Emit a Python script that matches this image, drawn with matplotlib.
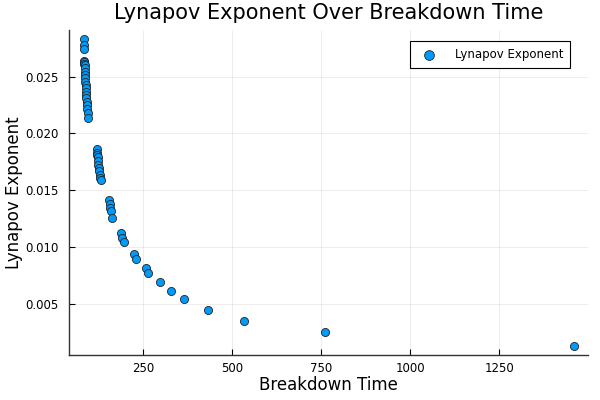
import matplotlib
matplotlib.use("Agg")
import matplotlib.pyplot as plt
import numpy as np

breakdown_time = [
    84, 84, 84, 85, 85, 85, 86, 86, 87, 87, 88, 88, 89, 89, 90, 90, 91, 92, 92, 93, 94, 95,
    120, 121, 121, 122, 123, 124, 125, 127, 128, 130, 131,
    155, 156.5, 158, 160, 163,
    188.5, 192, 196,
    225, 230.5,
    259, 265,
    296, 328.5, 364, 431, 533, 761, 1458,
]
lyapunov = [
    0.02830, 0.02778, 0.02742, 0.02636, 0.02625, 0.02615, 0.02603, 0.02573, 0.02545, 0.02515,
    0.02485, 0.02455, 0.02425, 0.02396, 0.02367, 0.02340, 0.02310, 0.02280, 0.02250, 0.02212,
    0.02178, 0.02132,
    0.01864, 0.01830, 0.01814, 0.01790, 0.01755, 0.01726, 0.01697, 0.01667, 0.01638, 0.01608, 0.01594,
    0.01410, 0.01375, 0.01345, 0.01313, 0.01257,
    0.01120, 0.01080, 0.01040,
    0.00941, 0.00891,
    0.00815, 0.00768,
    0.00691, 0.00612, 0.00538, 0.00449, 0.00348, 0.00248, 0.00130,
]
x_ticks = [250, 500, 750, 1000, 1250]
y_ticks = [0.005, 0.010, 0.015, 0.020, 0.025]

plt.rcParams['font.family'] = ['DejaVu Sans']

fig = plt.figure(figsize=(6, 4), dpi=100)
ax = fig.add_axes([0.1155, 0.1125, 0.865, 0.8125])

ax.scatter(breakdown_time, lyapunov, s=34, color='#009AFA', edgecolors='#222222',
           linewidths=0.6, label='Lynapov Exponent', zorder=3)

x = np.array(breakdown_time); y = np.array(lyapunov)
xm = (x.max() - x.min()) * 0.03
ym = (y.max() - y.min()) * 0.03
ax.set_xlim(x.min() - xm, x.max() + xm)
ax.set_ylim(y.min() - ym, y.max() + ym)

ax.set_xticks(x_ticks)
ax.set_xticklabels([str(t) for t in x_ticks])
ax.set_yticks(y_ticks)
ax.set_yticklabels([f"{t:.3f}" for t in y_ticks])

ax.grid(True, color='black', alpha=0.1, linewidth=0.5)
ax.set_axisbelow(True)
for s in ['top', 'right']:
    ax.spines[s].set_visible(False)
for s in ['left', 'bottom']:
    ax.spines[s].set_color('#333333')
    ax.spines[s].set_linewidth(1.0)
ax.tick_params(direction='in', length=4, width=0.8, labelsize=8.5, colors='black')
ax.tick_params(axis='y', pad=8)
ax.tick_params(axis='x', pad=5)

ax.set_title('Lynapov Exponent Over Breakdown Time', fontsize=15, pad=8)
ax.set_xlabel('Breakdown Time', fontsize=12, labelpad=1)
ax.set_ylabel('Lynapov Exponent', fontsize=12, labelpad=1)

leg = ax.legend(loc='upper right', fontsize=8.5, fancybox=False, framealpha=1,
                edgecolor='black', borderpad=0.6, handletextpad=1.2, markerscale=1.2,
                bbox_to_anchor=(0.977, 0.984))
leg.get_frame().set_linewidth(0.8)

fig.savefig('out.png', dpi=100)
